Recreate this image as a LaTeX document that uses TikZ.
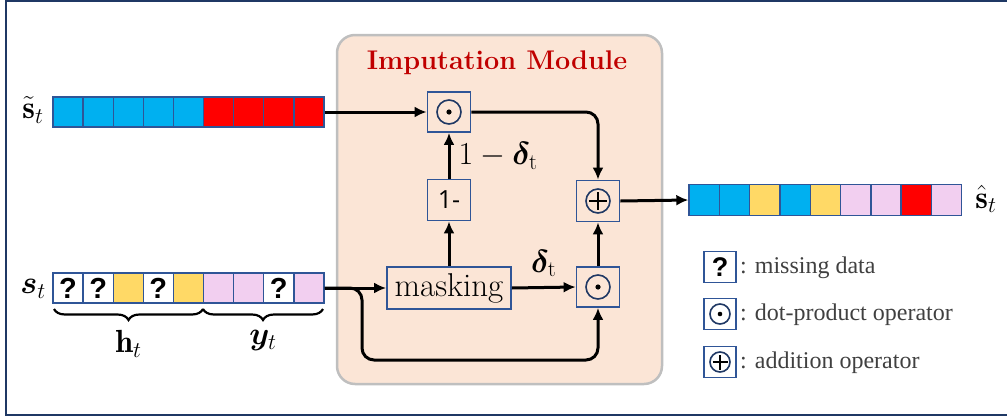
\RequirePackage{fix-cm}
\documentclass[tikz,border=0pt]{standalone}
\usepackage{amsmath,bm}
\usepackage{fontspec}
\newfontfamily\legendfont{Liberation Serif}
\newfontfamily\qfont{Liberation Sans}
\newfontfamily\onefont{Open Sans}
\usetikzlibrary{arrows.meta,decorations.pathreplacing}

\definecolor{frameblue}{HTML}{1F3864}
\definecolor{celledge}{HTML}{2F5597}
\definecolor{cblue}{HTML}{00B0F0}
\definecolor{cred}{HTML}{FF0000}
\definecolor{cyellow}{HTML}{FFD966}
\definecolor{cpink}{HTML}{F2CFF0}
\definecolor{modfill}{HTML}{FBE5D6}
\definecolor{modedge}{HTML}{BFBFBF}
\definecolor{titlered}{HTML}{C00000}
\definecolor{legendgray}{HTML}{404040}

\begin{document}
\begin{tikzpicture}[x=1pt,y=-1pt,
  cell/.style={draw=celledge, line width=1.4pt, minimum width=30.1pt, minimum height=30pt, inner sep=0pt,
    font=\qfont\bfseries\fontsize{29}{30}\selectfont},
  outcell/.style={cell, minimum width=30.3pt, minimum height=31pt},
  opbox/.style={draw=celledge, line width=1.8pt, minimum width=43pt, minimum height=40pt, inner sep=0pt},
  legbox/.style={draw=celledge, line width=1.8pt, fill=white, minimum width=32pt, minimum height=31pt, inner sep=0pt,
    font=\qfont\bfseries\fontsize{27}{28}\selectfont},
  opcircle/.style={draw=frameblue, line width=1.6pt},
  conn/.style={line width=3pt, -{Latex[length=12pt,width=11pt]}},
  mathlabel/.style={font=\fontsize{32}{36}\selectfont, inner sep=0pt},
  legtext/.style={anchor=west, font=\legendfont\fontsize{24}{28}\selectfont, text=legendgray, inner sep=0pt},
  bracestyle/.style={line width=2.2pt, decorate, decoration={brace, mirror, amplitude=11pt}}
]
\useasboundingbox (0,0) rectangle (1007,418);

% outer frame
\draw[frameblue, line width=2.5pt] (1015,1) -- (6,1) -- (6,415) -- (1015,415);

% imputation module background
\draw[fill=modfill, draw=modedge, line width=2.5pt, rounded corners=18pt] (337,35) rectangle (662,384);
\node[font=\bfseries\fontsize{27}{30}\selectfont, text=titlered] (title) at (497,63) {Imputation Module};

% tilde s_t vector
\foreach \c [count=\i] in {cblue,cblue,cblue,cblue,cblue,cred,cred,cred,cred}
  \node[cell, fill=\c] (top-\i) at ({53+30.1*(\i-0.5)},112) {};
\node[mathlabel] (toplabel) at (33,110) {$\tilde{\mathbf{s}}_t$};

% s_t vector with missing entries
\foreach \c/\t [count=\i] in {white/?,white/?,cyellow/,white/?,cyellow/,cpink/,cpink/,white/?,cpink/}
  \node[cell, fill=\c] (bot-\i) at ({53+30.1*(\i-0.5)},288) {\t};
\node[mathlabel] (botlabel) at (33,289) {$\bm{s}_t$};

% braces under s_t
\coordinate (b0) at (54,309);
\coordinate (b1) at (203,309);
\coordinate (b2) at (323,309);
\draw[bracestyle] (b0) -- (b1) node[midway, below=20pt, mathlabel] (hlabel) {$\mathbf{h}_t$};
\draw[bracestyle] (b1) -- (b2) node[midway, below=20pt, mathlabel] (ylabel) {$\bm{y}_t$};

% output vector
\foreach \c [count=\i] in {cblue,cblue,cyellow,cblue,cyellow,cpink,cpink,cred,cpink}
  \node[outcell, fill=\c] (out-\i) at ({689+30.3*(\i-0.5)},200) {};
\node[mathlabel] (outlabel) at (986,199) {$\hat{\mathbf{s}}_t$};

% operators inside the module
\node[opbox] (dot1) at (449,112) {};
\draw[opcircle] (dot1) circle (12pt);
\fill (dot1) circle (2.6pt);

\node[opbox, minimum height=41pt] (one) at (449,200) {\onefont\fontsize{25}{28}\selectfont 1-};

\node[opbox, minimum height=41pt] (plus) at (598,201) {};
\draw[opcircle] (plus) circle (12pt);
\draw[line width=1.6pt] ([xshift=-9pt]plus.center) -- ([xshift=9pt]plus.center)
                        ([yshift=-9pt]plus.center) -- ([yshift=9pt]plus.center);

\node[draw=celledge, line width=1.8pt, minimum width=124pt, minimum height=42pt, inner sep=0pt,
      font=\fontsize{33}{35}\selectfont] (mask) at (449,288) {masking};

\node[opbox] (dot2) at (598,287) {};
\draw[opcircle] (dot2) circle (12pt);
\fill (dot2) circle (2.6pt);

% connectors
\draw[conn] (top-9.east) -- (dot1.west);
\draw[conn, rounded corners=12pt] (dot1.east) -| (plus.north);
\draw[conn] (one.north) -- (dot1.south)
  node[midway, right=8pt, mathlabel] (omdelta) {$1-\bm{\delta}_{\mathrm{t}}$};
\draw[conn] (plus.east) -- (out-1.west);
\draw[conn] (mask.north) -- (one.south);
\draw[conn] (mask.east) -- (dot2.west)
  node[midway, above=9pt, mathlabel] (delta) {$\bm{\delta}_{\mathrm{t}}$};
\draw[conn] (dot2.north) -- (plus.south);
\draw[conn] (bot-9.east) -- (mask.west);
\coordinate (branch) at (362,288);
\draw[conn, rounded corners=12pt] (bot-9.east) -- (branch) -- ++(0,72) -| (dot2.south);

% legend
\node[legbox] (leg1) at (720,267) {?};
\node[legtext] (legt1) at (740,268) {: missing data};
\node[legbox] (leg2) at (720,314) {};
\draw[opcircle] (leg2) circle (10pt);
\fill (leg2) circle (2.3pt);
\node[legtext] (legt2) at (740,315) {: dot-product operator};
\node[legbox] (leg3) at (720,362) {};
\draw[opcircle] (leg3) circle (10pt);
\draw[line width=1.5pt] ([xshift=-7.5pt]leg3.center) -- ([xshift=7.5pt]leg3.center)
                        ([yshift=-7.5pt]leg3.center) -- ([yshift=7.5pt]leg3.center);
\node[legtext] (legt3) at (740,363) {: addition operator};
\end{tikzpicture}
\end{document}
